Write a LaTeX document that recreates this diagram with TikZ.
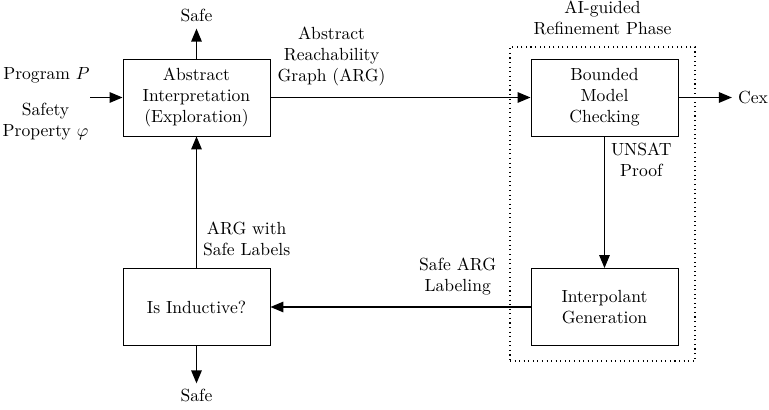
\documentclass[tikz,border=0pt]{standalone}
\usetikzlibrary{arrows.meta}
\begin{document}
\begin{tikzpicture}[
    stage/.style={draw, line width=0.5pt, minimum width=2.94cm, minimum height=1.54cm, align=center},
    flow/.style={-{Triangle[length=2.6mm,width=2.1mm]}, thick},
    note/.style={align=center}
  ]
    % Fixed page size
    \useasboundingbox (0,0) rectangle (15.38,8.2);

    % Refinement phase frame
    \node[draw, dotted, semithick, minimum width=3.7cm, minimum height=6.28cm] (phase) at (12.05,4.12) {};
    \node[note, above=1mm] (phasetitle) at (phase.north) {AI-guided\\Refinement Phase};

    % Main stages
    \node[stage] (absint) at (3.93,6.25) {Abstract\\Interpretation\\(Exploration)};
    \node[stage] (bmc) at (12.09,6.25) {Bounded\\Model\\Checking};
    \node[stage] (interp) at (12.09,2.06) {Interpolant\\Generation};
    \node[stage] (induct) at (3.93,2.06) {Is Inductive?};

    % Inputs
    \node[note] (prog) at (0.93,6.70) {Program $P$};
    \node[note] (prop) at (0.91,5.77) {Safety\\Property $\varphi$};
    \coordinate (entry) at (1.8,6.25);

    % Outcomes
    \node[note] (safeup) at (3.93,7.88) {Safe};
    \node[note] (safedown) at (3.93,0.28) {Safe};
    \node[note] (cex) at (15.06,6.25) {Cex};

    % Connectors
    \draw[flow] (entry) -- (absint);
    \draw[flow] (absint) -- (safeup);
    \draw[flow] (absint) -- node[note, pos=0.235, above=1mm] {Abstract\\Reachability\\Graph (ARG)} (bmc);
    \draw[flow] (bmc) -- (cex);
    \draw[flow] (bmc) -- node[note, pos=0.18, right] {UNSAT\\Proof} (interp);
    \draw[flow] (interp) -- node[note, pos=0.28, above=1mm] {Safe ARG\\Labeling} (induct);
    \draw[flow] (induct) -- node[note, pos=0.22, right] {ARG with\\Safe Labels} (absint);
    \draw[flow] (induct) -- (safedown);
\end{tikzpicture}
\end{document}
